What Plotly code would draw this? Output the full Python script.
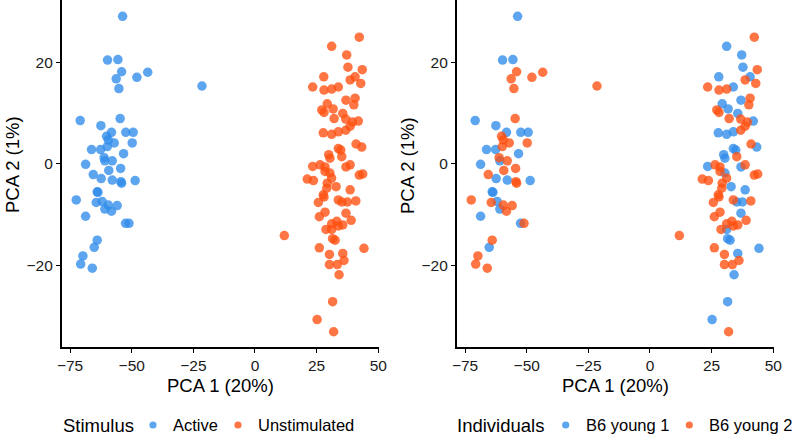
import plotly.graph_objects as go

# ---- data: Active (stimulus) points; individual label per point ----
active_x = [-53.7, -59.8, -55.6, -54.1, -43.5, -56.3, -47.9, -55.2, -70.9, -54.7,
            -62.5, -58.2, -52.4, -49.4, -60.2, -59.5, -57.1, -49.8, -59.9, -66.3,
            -62.6, -53.3, -61.2, -60.9, -57.9, -68.7, -54.5, -59.3, -65.6, -62.4,
            -57.9, -54.4, -54.1, -48.6, -64.0, -63.7, -72.5, -64.4, -62.0, -59.5,
            -55.9, -60.9, -58.2, -68.7, -52.5, -51.1, -64.0, -65.2, -69.8, -70.7,
            -66.0, -21.5]
active_y = [29.0, 20.4, 20.5, 18.1, 18.0, 16.7, 17.0, 14.8, 8.5, 8.9,
            7.5, 6.2, 6.2, 6.2, 5.4, 4.7, 4.1, 4.1, 3.4, 2.8,
            2.8, 2.0, 1.2, 0.6, 0.6, -0.1, -0.9, -1.3, -2.1, -2.9,
            -3.2, -3.5, -3.8, -3.3, -5.5, -5.6, -7.1, -7.6, -7.4, -8.1,
            -8.2, -8.9, -9.3, -10.3, -11.7, -11.7, -15.0, -16.4, -18.1, -19.7,
            -20.5, 15.3]
active_ind = [1, 1, 1, 2, 2, 2, 2, 2, 1, 2,
              1, 1, 1, 1, 2, 2, 2, 2, 2, 1,
              1, 1, 2, 1, 2, 1, 2, 2, 2, 1,
              1, 2, 2, 1, 1, 1, 2, 2, 1, 2,
              2, 1, 2, 1, 1, 2, 2, 1, 2, 2,
              2, 2]

# ---- data: Unstimulated points ----
unstim_x = [42.3, 31.1, 37.2, 37.7, 43.5, 27.9, 40.6, 38.6, 42.9, 23.4,
            28.0, 31.1, 33.8, 36.9, 40.6, 40.1, 29.3, 27.1, 28.0, 31.7,
            35.6, 32.1, 36.8, 39.5, 41.9, 38.6, 36.8, 27.7, 31.1, 33.8,
            41.0, 43.3, 33.8, 34.8, 29.9, 30.4, 35.2, 23.4, 26.4, 28.4,
            38.6, 36.9, 28.4, 30.4, 31.1, 21.2, 23.7, 42.3, 43.7, 29.3,
            32.9, 38.6, 29.1, 27.7, 28.0, 25.7, 33.8, 35.2, 37.5, 40.9,
            28.4, 36.9, 26.1, 39.0, 33.2, 31.1, 35.6, 33.8, 28.8, 31.1,
            11.9, 31.5, 32.5, 26.1, 44.2, 30.2, 35.6, 36.1, 30.2, 33.4,
            34.1, 31.5, 25.2, 31.9]
unstim_y = [24.9, 23.1, 21.4, 19.0, 18.5, 17.1, 17.1, 16.5, 15.8, 15.1,
            14.5, 14.7, 15.1, 12.5, 12.9, 11.6, 11.8, 10.6, 10.1, 10.8,
            9.9, 8.9, 8.8, 8.2, 8.4, 7.4, 6.6, 6.1, 5.8, 6.3,
            3.9, 3.3, 3.0, 2.7, 1.8, 1.1, 1.4, -0.5, -0.2, -0.6,
            -0.2, -0.6, -1.5, -1.8, -2.8, -3.0, -3.3, -2.2, -2.0, -3.8,
            -4.5, -5.1, -4.8, -6.1, -6.5, -7.6, -7.1, -7.5, -7.5, -7.3,
            -9.5, -9.7, -10.4, -11.1, -11.3, -11.8, -12.0, -12.2, -12.9, -12.9,
            -14.1, -14.7, -15.0, -16.5, -16.6, -17.8, -17.6, -19.0, -19.8, -19.8,
            -21.8, -27.1, -30.6, -33.0]
unstim_ind = [2, 1, 1, 1, 2, 1, 1, 2, 2, 2,
              2, 2, 1, 1, 2, 2, 1, 2, 2, 1,
              1, 2, 2, 2, 1, 2, 2, 1, 1, 1,
              2, 1, 1, 1, 1, 1, 2, 1, 2, 2,
              2, 1, 2, 1, 2, 2, 2, 2, 2, 2,
              1, 1, 2, 2, 2, 2, 2, 1, 1, 2,
              2, 1, 2, 2, 2, 2, 2, 2, 2, 1,
              2, 1, 1, 2, 1, 2, 1, 2, 2, 2,
              1, 1, 1, 2]

stim_title = "Stimulus"
stim_labels = ["Active", "Unstimulated"]
ind_title = "Individuals"
ind_labels = ["B6 young 1", "B6 young 2"]
x_ticks = [-75, -50, -25, 0, 25, 50]
y_ticks = [-20, 0, 20]

BLUE = "#2F8CEB"
ORANGE = "#FF4F10"
OP = 0.78
MS = 9.5
FONT = "Liberation Sans, Arial, sans-serif"

fig = go.Figure()

# left panel: by stimulus
fig.add_trace(go.Scatter(x=active_x, y=active_y, mode="markers", xaxis="x", yaxis="y",
                         name=stim_labels[0],
                         marker=dict(color=BLUE, size=MS, opacity=OP, line=dict(width=0))))
fig.add_trace(go.Scatter(x=unstim_x, y=unstim_y, mode="markers", xaxis="x", yaxis="y",
                         name=stim_labels[1],
                         marker=dict(color=ORANGE, size=MS, opacity=OP, line=dict(width=0))))

# right panel: by individual
all_x = active_x + unstim_x
all_y = active_y + unstim_y
all_ind = active_ind + unstim_ind
for k, col in [(1, BLUE), (2, ORANGE)]:
    xs = [a for a, i in zip(all_x, all_ind) if i == k]
    ys = [b for b, i in zip(all_y, all_ind) if i == k]
    fig.add_trace(go.Scatter(x=xs, y=ys, mode="markers", xaxis="x2", yaxis="y2",
                             name=ind_labels[k - 1],
                             marker=dict(color=col, size=MS, opacity=OP, line=dict(width=0))))

W, H = 794, 437
B = 90
ph = H - B
xr = [-78.4, 50.3]
yr = [-36.0, 32.2]
LEG_Y = 425


def py(pix):
    """pixel row (from top) -> paper y"""
    return (ph - pix) / ph


axis_common = dict(showline=True, linecolor="black", linewidth=1.5, ticks="outside",
                   ticklen=4, tickwidth=1.2, tickcolor="black", showgrid=False,
                   zeroline=False, automargin=False,
                   tickfont=dict(family=FONT, size=15.5, color="#1a1a1a"))

fig.update_layout(
    width=W, height=H,
    margin=dict(l=0, r=0, t=0, b=B),
    paper_bgcolor="white", plot_bgcolor="white",
    showlegend=False,
    font=dict(family=FONT, size=18, color="black"),
    xaxis=dict(domain=[61.7 / W, 379 / W], range=xr, tickvals=x_ticks, anchor="y", **axis_common),
    yaxis=dict(domain=[0, 1], range=yr, tickvals=y_ticks, anchor="x", **axis_common),
    xaxis2=dict(domain=[456.7 / W, 774 / W], range=xr, tickvals=x_ticks, anchor="y2", **axis_common),
    yaxis2=dict(domain=[0, 1], range=yr, tickvals=y_ticks, anchor="x2", **axis_common),
)

# ---- legends (drawn as text + dot glyphs) ----
def add_legend(title, title_x, labels, dot_xs, colors):
    fig.add_annotation(text=title, xref="paper", yref="paper", x=title_x / W, y=py(LEG_Y),
                       xanchor="left", yanchor="middle", showarrow=False, borderpad=0,
                       font=dict(size=18.5, family=FONT))
    for lab, dx, col in zip(labels, dot_xs, colors):
        fig.add_shape(type="circle", xref="paper", yref="paper",
                      xsizemode="pixel", ysizemode="pixel",
                      xanchor=dx / W, yanchor=py(LEG_Y),
                      x0=-3.6, x1=3.6, y0=-3.6, y1=3.6,
                      fillcolor=col, opacity=OP, line=dict(width=0))
        fig.add_annotation(text=lab, xref="paper", yref="paper", x=(dx + 19) / W, y=py(LEG_Y),
                           xanchor="left", yanchor="middle", showarrow=False, borderpad=0,
                           font=dict(size=16.5, family=FONT))


add_legend(stim_title, 62.0, stim_labels, [153, 238], [BLUE, ORANGE])
add_legend(ind_title, 456.5, ind_labels, [565.7, 689.3], [BLUE, ORANGE])

# axis titles
for cx in [(61.7 + 379) / 2, (456.7 + 774) / 2]:
    fig.add_annotation(text="PCA 1 (20%)", xref="paper", yref="paper",
                       x=cx / W, y=py(385), xanchor="center", yanchor="middle",
                       showarrow=False, font=dict(size=18.5, family=FONT))
for cx in [12, 407]:
    fig.add_annotation(text="PCA 2 (1%)", xref="paper", yref="paper",
                       x=cx / W, y=py(165), xanchor="center", yanchor="middle",
                       textangle=-90, showarrow=False, font=dict(size=18.5, family=FONT))

fig.write_html("out.html", config={"displayModeBar": False},
               post_script="document.body.style.margin='0';document.body.style.overflow='hidden';")
